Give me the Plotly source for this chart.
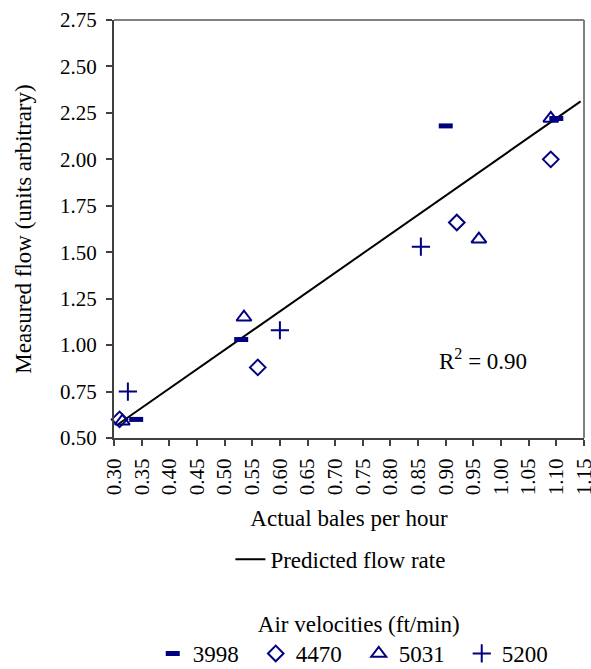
import plotly.graph_objects as go

# Data
x_3998 = [0.34, 0.53, 0.90, 1.10]
y_3998 = [0.60, 1.03, 2.18, 2.22]
x_4470 = [0.31, 0.56, 0.92, 1.09]
y_4470 = [0.60, 0.88, 1.66, 2.00]
x_5031 = [0.315, 0.535, 0.96, 1.09]
y_5031 = [0.59, 1.15, 1.57, 2.22]
x_5200 = [0.325, 0.60, 0.855, 1.145]
y_5200 = [0.75, 1.08, 1.53, 2.77]
x_pred = [0.308, 1.144]
y_pred = [0.575, 2.312]
x_ticks = [round(0.30 + 0.05 * i, 2) for i in range(18)]
y_ticks = [round(0.50 + 0.25 * i, 2) for i in range(10)]
r2_text = "R<sup>2</sup> = 0.90"

NAVY = "#000080"
FONT = "Liberation Serif, Times New Roman, serif"

fig = go.Figure()
fig.add_trace(go.Scatter(x=x_pred, y=y_pred, mode="lines", name="Predicted flow rate",
                         line=dict(color="black", width=2), legend="legend"))
fig.add_trace(go.Scatter(x=x_3998, y=y_3998, mode="markers", name="3998", legend="legend2",
                         cliponaxis=False,
                         marker=dict(symbol="line-ew", size=10, color=NAVY,
                                     line=dict(color=NAVY, width=5))))
fig.add_trace(go.Scatter(x=x_4470, y=y_4470, mode="markers", name="4470", legend="legend2",
                         cliponaxis=False,
                         marker=dict(symbol="diamond-open", size=12, color=NAVY,
                                     line=dict(color=NAVY, width=2))))
fig.add_trace(go.Scatter(x=x_5031, y=y_5031, mode="markers", name="5031", legend="legend2",
                         cliponaxis=False,
                         marker=dict(symbol="triangle-up-open", size=13, color=NAVY,
                                     line=dict(color=NAVY, width=2))))
fig.add_trace(go.Scatter(x=x_5200, y=y_5200, mode="markers", name="5200", legend="legend2",
                         cliponaxis=False,
                         marker=dict(symbol="cross-thin-open", size=13, color=NAVY,
                                     line=dict(color=NAVY, width=2))))

fig.add_annotation(x=0.967, y=0.92, text=r2_text, showarrow=False,
                   font=dict(family=FONT, size=23, color="black"))

# top and right frame lines (grey)
fig.add_shape(type="line", xref="paper", yref="paper", x0=0, x1=1, y0=1, y1=1,
              line=dict(color="#808080", width=2))
fig.add_shape(type="line", xref="paper", yref="paper", x0=1, x1=1, y0=0, y1=1,
              line=dict(color="#808080", width=2))

fig.update_layout(
    width=591, height=669,
    margin=dict(l=114, r=7, t=20, b=231, autoexpand=False),
    paper_bgcolor="white", plot_bgcolor="white",
    font=dict(family=FONT, size=21, color="black"),
    xaxis=dict(range=[0.2999, 1.1501], tickvals=x_ticks, ticktext=[f"{v:.2f}" for v in x_ticks],
               tickangle=-90, showgrid=False, zeroline=False, showline=True,
               linecolor="#404040", linewidth=2, ticks="outside", ticklen=6,
               tickcolor="#404040", tickwidth=2, tickfont=dict(family=FONT, size=21),
               ticklabeloverflow="allow", automargin=False, ticklabelstandoff=4,
               title=dict(text="Actual bales per hour", font=dict(family=FONT, size=23), standoff=16)),
    yaxis=dict(range=[0.4999, 2.7501], tickvals=y_ticks, ticktext=[f"{v:.2f}" for v in y_ticks],
               showgrid=False, zeroline=False, showline=True,
               linecolor="#404040", linewidth=2, ticks="outside", ticklen=6,
               tickcolor="#404040", tickwidth=2, tickfont=dict(family=FONT, size=21),
               ticklabeloverflow="allow", automargin=False, ticklabelstandoff=5,
               title=dict(text="Measured flow (units arbitrary)", font=dict(family=FONT, size=23), standoff=22)),
    legend=dict(x=0.576, y=0.164, xref="container", yref="container",
                xanchor="center", yanchor="middle",
                orientation="h", font=dict(family=FONT, size=23), bgcolor="rgba(0,0,0,0)"),
    legend2=dict(x=0.607, y=0.1, xref="container", yref="container",
                 xanchor="center", yanchor="top",
                 orientation="h", font=dict(family=FONT, size=23), bgcolor="rgba(0,0,0,0)",
                 entrywidth=58,
                 title=dict(text="Air velocities (ft/min)", side="top center",
                            font=dict(family=FONT, size=23))),
    showlegend=True,
)

fig.write_html("out.html")
